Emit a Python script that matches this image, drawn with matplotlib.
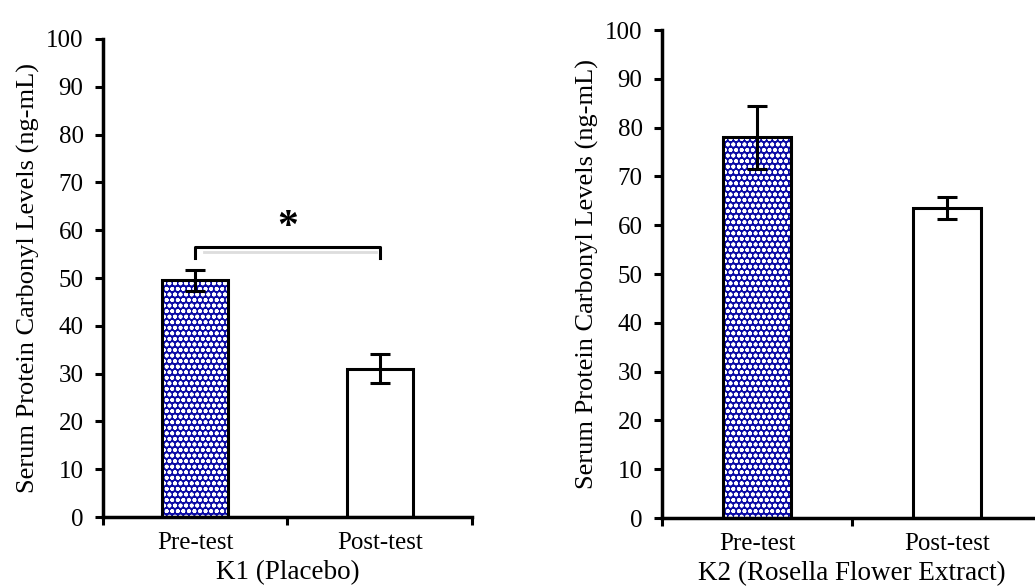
import numpy as np
import matplotlib.pyplot as plt

plt.rcParams['font.family'] = ['Liberation Serif', 'DejaVu Serif']
plt.rcParams['hatch.linewidth'] = 1.2

groups = ["Pre-test", "Post-test"]
k1_mean = [49.5, 31.0]
k1_err = [2.2, 3.0]
k2_mean = [78.0, 63.5]
k2_err = [6.5, 2.2]
panels = [
    ("K1 (Placebo)", k1_mean, k1_err),
    ("K2 (Rosella Flower Extract)", k2_mean, k2_err),
]

fig = plt.figure(figsize=(10.35, 5.88), dpi=100)
rects = [[0.0995, 0.1207, 0.3565, 0.8130], [0.6396, 0.1190, 0.3672, 0.8299]]

x = np.arange(len(groups))
for (title, mean, err), r in zip(panels, rects):
    ax = fig.add_axes(r)
    # patterned pre-test bar, plain post-test bar
    ax.bar(x[0], mean[0], width=0.36, color='#0a0aa5', hatch='ooo',
           edgecolor='white', linewidth=0, zorder=2)
    ax.bar(x, mean, width=0.36, facecolor='none', edgecolor='black',
           linewidth=2.2, zorder=3)
    ax.errorbar(x, mean, yerr=err, fmt='none', ecolor='black',
                elinewidth=2.2, capsize=7, capthick=2.2, zorder=4)
    ax.set_xlim(-0.5, 1.5)
    ax.set_ylim(0, 100)
    ax.set_yticks(np.arange(0, 101, 10))
    ax.set_xticks([-0.5, 0.5, 1.5])
    ax.set_xticklabels([])
    ax.set_xticks(x, minor=True)
    ax.set_xticklabels(groups, minor=True)
    ax.tick_params(axis='x', which='minor', length=0, labelsize=18, pad=11)
    ax.tick_params(axis='x', which='major', length=6, width=2.2, direction='out')
    ax.tick_params(axis='y', length=6, width=2.2, direction='out', labelsize=18,
                   pad=8)
    for s in ['top', 'right']:
        ax.spines[s].set_visible(False)
    for s in ['left', 'bottom']:
        ax.spines[s].set_linewidth(2.5)
    ax.set_ylabel("Serum Protein Carbonyl Levels (ng-mL)", fontsize=19,
                  labelpad=4)
    ax.set_xlabel(title, fontsize=19.5, labelpad=4)
    if title.startswith("K1"):
        # significance bracket
        ax.plot([0, 0, 1, 1], [54.2, 56.5, 56.5, 54.2], color='black', lw=2.2,
                solid_joinstyle='round', zorder=5)
        ax.plot([0.05, 0.98], [55.4, 55.4], color='#dddddd', lw=2, zorder=1)
        ax.text(0.5, 60.5, "*", ha='center', va='center', fontsize=30,
                fontweight='bold')

plt.savefig('out.png', dpi=100)
